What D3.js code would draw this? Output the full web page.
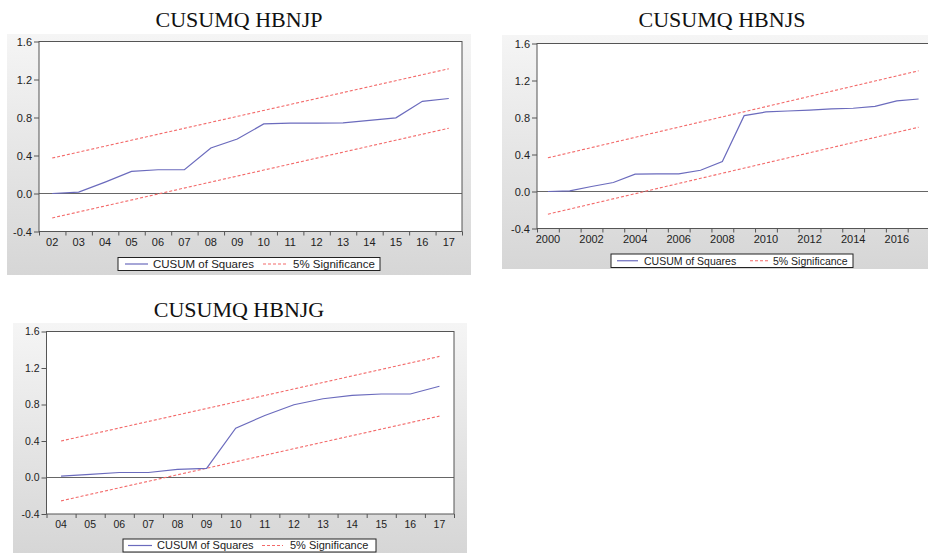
<!DOCTYPE html>
<html><head><meta charset="utf-8">
<script src="https://cdn.jsdelivr.net/npm/d3@7"></script>
<style>body{margin:0;background:#fff}svg{display:block}</style>
</head><body>
<svg id="chart" width="928" height="554"></svg>
<script>
// ---------- data ----------
const yTicks = [-0.4, 0.0, 0.4, 0.8, 1.2, 1.6];
const seriesNames = ["CUSUM of Squares", "5% Significance"];

const titleP = "CUSUMQ HBNJP";
const catsP = ["02","03","04","05","06","07","08","09","10","11","12","13","14","15","16","17"];
const cusumP = [0.0, 0.014, 0.12, 0.232, 0.25, 0.25, 0.479, 0.574, 0.732, 0.74, 0.74, 0.743, 0.77, 0.796, 0.97, 1.0];
const upperP = [0.373, 1.313];   // first, last
const lowerP = [-0.257, 0.687];
const xLabelsP = catsP;

const titleS = "CUSUMQ HBNJS";
const catsS = ["2000","2001","2002","2003","2004","2005","2006","2007","2008","2009","2010","2011","2012","2013","2014","2015","2016","2017"];
const cusumS = [0.0, 0.007, 0.054, 0.097, 0.187, 0.19, 0.19, 0.23, 0.324, 0.82, 0.86, 0.87, 0.88, 0.893, 0.9, 0.92, 0.98, 1.0];
const upperS = [0.364, 1.305];
const lowerS = [-0.245, 0.695];
const xLabelsS = ["2000","2002","2004","2006","2008","2010","2012","2014","2016"];

const titleG = "CUSUMQ HBNJG";
const catsG = ["04","05","06","07","08","09","10","11","12","13","14","15","16","17"];
const cusumG = [0.015, 0.035, 0.055, 0.055, 0.09, 0.10, 0.54, 0.68, 0.797, 0.863, 0.9, 0.915, 0.915, 1.0];
const upperG = [0.40, 1.327];
const lowerG = [-0.256, 0.673];
const xLabelsG = catsG;

// ---------- drawing ----------
const svg = d3.select("#chart");
const defs = svg.append("defs");
const grad = defs.append("linearGradient").attr("id","bgGrad").attr("x1",0).attr("y1",0).attr("x2",0).attr("y2",1);
grad.append("stop").attr("offset","0%").attr("stop-color","#f5f5f5");
grad.append("stop").attr("offset","100%").attr("stop-color","#d6d6d6");

const blue = "#6b6bbd", red = "#f36a6a", frame = "#555";

function panel(o) {
  const g = svg.append("g");
  g.append("rect").attr("x", o.bg[0]).attr("y", o.bg[1]).attr("width", o.bg[2]).attr("height", o.bg[3])
    .attr("fill", "url(#bgGrad)");
  g.append("text").attr("x", o.titleX).attr("y", o.titleY).attr("text-anchor","middle")
    .attr("font-family","'Liberation Serif','Times New Roman',serif").attr("font-size",22).attr("fill","#111")
    .text(o.title);

  const n = o.cats.length;
  const x = d3.scaleBand().domain(o.cats).range([o.x0, o.x1]).padding(0);
  const xb = d3.scaleLinear().domain([0, n]).range([o.x0, o.x1]);
  const y = d3.scaleLinear().domain([-0.4, 1.6]).range([o.y1, o.y0]);
  const cx = c => x(c) + x.bandwidth() / 2;

  g.append("rect").attr("x", o.x0).attr("y", o.y0).attr("width", o.x1 - o.x0).attr("height", o.y1 - o.y0)
    .attr("fill", "#fff");

  // zero line
  g.append("line").attr("x1", o.x0).attr("x2", o.x1).attr("y1", y(0)).attr("y2", y(0))
    .attr("stroke", "#666").attr("stroke-width", 1.2);

  const line = d3.line().x(d => cx(d[0])).y(d => y(d[1]));
  const ends = [o.cats[0], o.cats[n - 1]];
  [o.upper, o.lower].forEach(b => {
    g.append("path").datum(ends.map((c, i) => [c, b[i]])).attr("d", line)
      .attr("fill","none").attr("stroke", red).attr("stroke-width", 1.1).attr("stroke-dasharray","3,2");
  });
  g.append("path").datum(o.cats.map((c, i) => [c, o.cusum[i]])).attr("d", line)
    .attr("fill","none").attr("stroke", blue).attr("stroke-width", 1.2);

  g.append("rect").attr("x", o.x0).attr("y", o.y0).attr("width", o.x1 - o.x0).attr("height", o.y1 - o.y0)
    .attr("fill", "none").attr("stroke", frame).attr("stroke-width", 1);

  // y axis
  const ya = g.append("g").attr("transform", `translate(${o.x0},0)`)
    .call(d3.axisLeft(y).tickValues(yTicks).tickSize(5).tickPadding(2).tickFormat(d => d.toFixed(1)));
  ya.select(".domain").remove();
  ya.selectAll("line").attr("stroke", frame);
  ya.selectAll("text").attr("font-family","'Liberation Sans',Arial,sans-serif").attr("font-size", o.fs).attr("fill","#222");

  // x axis (ticks at band boundaries)
  const xa = g.append("g").attr("transform", `translate(0,${o.y1})`)
    .call(d3.axisBottom(xb).tickValues(d3.range(n + 1)).tickSize(4).tickFormat(""));
  xa.select(".domain").remove();
  xa.selectAll("line").attr("stroke", frame);
  g.selectAll(null).data(o.xLabels).enter().append("text")
    .attr("x", d => cx(d)).attr("y", o.y1 + o.xlabDy).attr("text-anchor","middle")
    .attr("font-family","'Liberation Sans',Arial,sans-serif").attr("font-size", o.fs).attr("fill","#222")
    .text(d => d);

  // legend
  const L = o.leg;
  const lg = g.append("g").attr("transform", `translate(${L.x},${L.y})`);
  lg.append("rect").attr("x",0).attr("y",0).attr("width",L.w).attr("height",L.h)
    .attr("fill","#fff").attr("stroke","#222").attr("stroke-width",1);
  const my = L.h / 2;
  lg.append("line").attr("x1",L.l1[0]).attr("x2",L.l1[1]).attr("y1",my).attr("y2",my).attr("stroke",blue).attr("stroke-width",1.2);
  lg.append("text").attr("x",L.t1).attr("y",my).attr("dy","0.36em").attr("font-family","'Liberation Sans',Arial,sans-serif")
    .attr("font-size",L.fs).attr("fill","#222").text(seriesNames[0]);
  lg.append("line").attr("x1",L.l2[0]).attr("x2",L.l2[1]).attr("y1",my).attr("y2",my).attr("stroke",red).attr("stroke-width",1.1).attr("stroke-dasharray","3,2");
  lg.append("text").attr("x",L.t2).attr("y",my).attr("dy","0.36em").attr("font-family","'Liberation Sans',Arial,sans-serif")
    .attr("font-size",L.fs).attr("fill","#222").text(seriesNames[1]);
}

panel({title: titleP, cats: catsP, cusum: cusumP, upper: upperP, lower: lowerP, xLabels: xLabelsP,
  bg: [7, 34, 464, 241], titleX: 239, titleY: 27,
  x0: 39, x1: 462, y0: 41.5, y1: 231.5, fs: 11, xlabDy: 14,
  leg: {x: 118, y: 257.5, w: 262, h: 13, fs: 11.5, l1: [7, 30], t1: 35, l2: [145, 169], t2: 175}});

panel({title: titleS, cats: catsS, cusum: cusumS, upper: upperS, lower: lowerS, xLabels: xLabelsS,
  bg: [502, 35, 426, 234], titleX: 722, titleY: 27,
  x0: 537, x1: 929.5, y0: 43.5, y1: 228.5, fs: 11, xlabDy: 14,
  leg: {x: 611, y: 254, w: 242, h: 13.5, fs: 10.5, l1: [6, 27], t1: 33, l2: [139, 157], t2: 162}});

panel({title: titleG, cats: catsG, cusum: cusumG, upper: upperG, lower: lowerG, xLabels: xLabelsG,
  bg: [13, 323, 454, 230], titleX: 239, titleY: 317,
  x0: 46.5, x1: 454, y0: 331.5, y1: 514, fs: 10.5, xlabDy: 14,
  leg: {x: 123, y: 539, w: 253, h: 13, fs: 11, l1: [5, 29], t1: 34, l2: [139, 160], t2: 167}});
</script>
</body></html>
